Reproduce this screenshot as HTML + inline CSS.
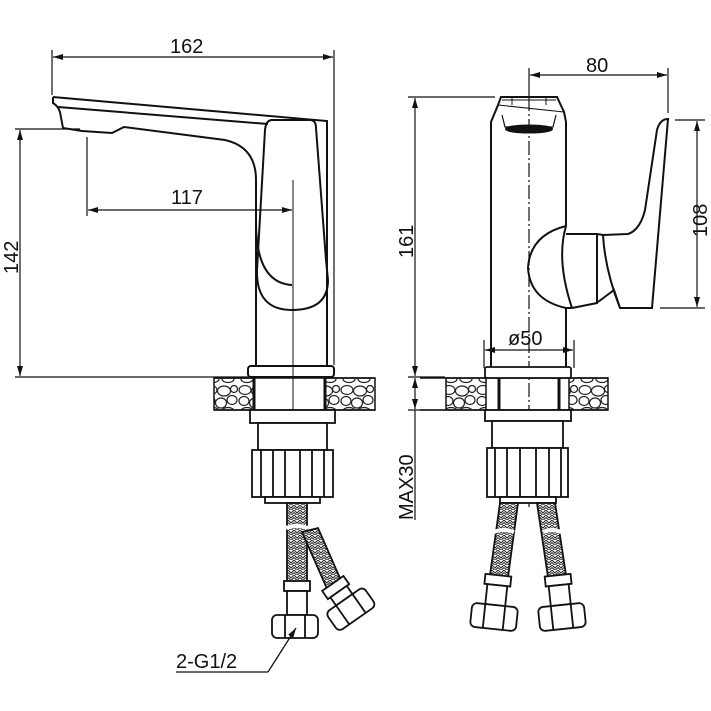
<!DOCTYPE html>
<html><head><meta charset="utf-8"><style>html,body{margin:0;padding:0;background:#fff}svg{display:block}</style></head><body>
<svg width="711" height="711" viewBox="0 0 711 711" xmlns="http://www.w3.org/2000/svg" font-family="Liberation Sans, sans-serif">
<defs>
<pattern id="braid" width="6" height="5" patternUnits="userSpaceOnUse">
<rect width="6" height="5" fill="#fff"/>
<path d="M0 0 L3 3 L6 0 M0 2.5 L3 5.5 L6 2.5" stroke="#222" stroke-width="1" fill="none"/>
</pattern>
<pattern id="stone" width="34" height="32" patternUnits="userSpaceOnUse">
<rect width="34" height="32" fill="#fff"/>
<g fill="none" stroke="#222" stroke-width="1.2">
<ellipse cx="7" cy="6" rx="6" ry="4.5"/><ellipse cx="20" cy="7" rx="6.5" ry="5"/><ellipse cx="30" cy="5" rx="3.5" ry="3.5"/>
<ellipse cx="6" cy="17" rx="5" ry="4.5"/><ellipse cx="17" cy="19" rx="5.5" ry="5"/><ellipse cx="28" cy="16" rx="5" ry="4.5"/>
<ellipse cx="9" cy="27" rx="6" ry="3.5"/><ellipse cx="24" cy="27" rx="6" ry="3.5"/>
</g>
</pattern>
<marker id="a" viewBox="0 0 10 6" refX="10" refY="3" markerWidth="10" markerHeight="6" orient="auto-start-reverse" markerUnits="userSpaceOnUse"><path d="M0 0 L10 3 L0 6 Z" fill="#111"/></marker>
</defs>
<g stroke="#111" fill="none" stroke-width="1.2">
<line x1="52" y1="50" x2="52" y2="95"/>
<line x1="334" y1="50" x2="334" y2="365"/>
<line x1="53" y1="57" x2="333" y2="57" marker-start="url(#a)" marker-end="url(#a)"/>
<line x1="15" y1="129" x2="80" y2="129"/>
<line x1="15" y1="377" x2="248" y2="377"/>
<line x1="20" y1="130" x2="20" y2="376" marker-start="url(#a)" marker-end="url(#a)"/>
<line x1="87" y1="137" x2="87" y2="216"/>
<line x1="88" y1="210" x2="292" y2="210" marker-start="url(#a)" marker-end="url(#a)"/>
<line x1="293" y1="180" x2="293" y2="525" stroke-width="1"/>
</g>
<g fill="#111" font-size="20">
<text x="170" y="53">162</text>
<text x="171" y="204">117</text>
<text transform="translate(18,274) rotate(-90)">142</text>
</g>
<g stroke="#111" fill="none" stroke-width="2">
<path d="M53 97 L53 103 Q58 106 60 112 L63 128 L82 131 L112 133 L124 127 L225 140 Q256 147 256 180 L256 365"/>
<path d="M53 97 L327 121 L327 365"/>
<path d="M58 107 L268 124"/>
<path d="M272 120 L310 120 Q316 120 316 128 L326 260 L328 280 Q328 310 292 310 Q256 310 257 270 L265 130 Q266 120 272 120 Z"/>
<path d="M256 222 Q256 283 292 285"/>
<rect x="248" y="366" width="86" height="11" rx="3"/>
</g>
<g stroke="#111" stroke-width="1.5">
<rect x="214" y="378" width="40" height="32" fill="url(#stone)"/>
<rect x="325" y="378" width="50" height="32" fill="url(#stone)"/>
<path d="M254 378 V410 M325 378 V410" stroke-width="3"/>
<line x1="214" y1="378" x2="375" y2="378"/>
<line x1="214" y1="410" x2="375" y2="410"/>
</g>
<g stroke="#111" fill="#fff" stroke-width="1.8">
<rect x="250" y="410" width="85" height="13"/>
<rect x="258" y="423" width="69" height="27"/>
<rect x="252" y="450" width="81" height="47"/>
<path d="M261 450 V497 M273 450 V497 M285 450 V497 M300 450 V497 M312 450 V497 M324 450 V497" fill="none"/>
<rect x="265" y="497" width="55" height="6"/>
<rect x="287" y="503" width="20" height="80" fill="url(#braid)"/>
<path d="M302 532 L318 528 L343 585 L328 591 Z" fill="url(#braid)"/>
<rect x="284" y="581" width="26" height="10"/>
<rect x="287" y="591" width="20" height="24"/>
<rect x="272" y="615" width="46" height="23" rx="5"/>
<path d="M285 615 V638 M305 615 V638" fill="none"/>
<g transform="translate(350,608) rotate(-35)">
<rect x="-13" y="-30" width="26" height="10"/>
<rect x="-10" y="-20" width="20" height="10"/>
<rect x="-23" y="-10" width="46" height="23" rx="5"/>
<path d="M-10 -10 V13 M10 -10 V13" fill="none"/>
</g>
</g>
<path d="M286 528 Q297 524 308 528" stroke="#fff" stroke-width="4" fill="none"/>
<g stroke="#111" fill="none" stroke-width="1.3">
<line x1="176" y1="672" x2="268" y2="672"/>
<line x1="268" y1="672" x2="296" y2="628" marker-end="url(#a)"/>
</g>
<text x="176" y="668" font-size="20" fill="#111">2-G1/2</text>

<g stroke="#111" fill="none" stroke-width="1.2">
<line x1="408" y1="97" x2="495" y2="97"/>
<line x1="408" y1="377" x2="445" y2="377"/>
<line x1="415" y1="98" x2="415" y2="376" marker-start="url(#a)" marker-end="url(#a)"/>
<line x1="408" y1="410" x2="445" y2="410"/>
<line x1="415" y1="378" x2="415" y2="409" marker-start="url(#a)" marker-end="url(#a)"/>
<line x1="415" y1="410" x2="415" y2="520"/>
<line x1="529" y1="68" x2="529" y2="96"/>
<line x1="668" y1="68" x2="668" y2="113"/>
<line x1="530" y1="75" x2="667" y2="75" marker-start="url(#a)" marker-end="url(#a)"/>
<line x1="675" y1="120" x2="705" y2="120"/>
<line x1="660" y1="308" x2="705" y2="308"/>
<line x1="697" y1="121" x2="697" y2="307" marker-start="url(#a)" marker-end="url(#a)"/>
<line x1="484" y1="340" x2="484" y2="368"/>
<line x1="574" y1="340" x2="574" y2="368"/>
<line x1="485" y1="350" x2="573" y2="350" marker-start="url(#a)" marker-end="url(#a)"/>
<line x1="529" y1="97" x2="529" y2="510" stroke-dasharray="14 3 2 3"/>
</g>
<g fill="#111" font-size="20">
<text x="586" y="72">80</text>
<text x="508" y="345">ø50</text>
<text transform="translate(413,258) rotate(-90)">161</text>
<text transform="translate(707,237) rotate(-90)">108</text>
<text transform="translate(413,520) rotate(-90)">MAX30</text>
</g>
<g stroke="#111" fill="none" stroke-width="2">
<path d="M491 368 V122 L498 105 L501 97 L557 97 L564 112 L566 122 V226"/>
<path d="M566 308 V368"/>
<path d="M498 105 L564 112" stroke-width="1"/>
<path d="M502 100 L556 100 M512 98 V105 M546 98 V105" stroke-width="1"/>
<path d="M502 115 L505 127 L553 127 L556 115" stroke-width="1.2"/>
<ellipse cx="529" cy="129" rx="23" ry="3.5" fill="#111"/>
<path d="M566 226 Q530 235 528 268 Q530 300 566 308"/>
<path d="M566 226 Q556 260 572 308 M571 234 L597 234 L597 303 L572 308 M566 234 L571 234 M566 308 L572 308"/>
<path d="M597 234 L603 235 L628 234 Q640 230 645 210 L657 130 Q660 119 668 119 L652 308 L620 308 L614 290 L598 302 M603 235 Q605 270 620 308"/>
</g>
<g stroke="#111" stroke-width="1.5">
<rect x="446" y="378" width="40" height="32" fill="url(#stone)"/>
<rect x="569" y="378" width="39" height="32" fill="url(#stone)"/>
<path d="M499 378 V410 M559 378 V410" stroke-width="3"/>
<line x1="420" y1="378" x2="608" y2="378"/>
<line x1="420" y1="410" x2="608" y2="410"/>
</g>
<g stroke="#111" fill="#fff" stroke-width="1.8">
<rect x="485" y="367" width="86" height="11" rx="2"/>
<rect x="485" y="410" width="86" height="11"/>
<rect x="492" y="421" width="71" height="27"/>
<rect x="487" y="448" width="81" height="49"/>
<path d="M495 448 V497 M507 448 V497 M520 448 V497 M536 448 V497 M549 448 V497 M561 448 V497" fill="none"/>
<rect x="500" y="497" width="56" height="6"/>
<path d="M500 503 L518 503 L508 577 L490 575 Z" fill="url(#braid)"/>
<path d="M537 503 L555 503 L566 575 L548 577 Z" fill="url(#braid)"/>
<g transform="translate(494,617) rotate(6)">
<rect x="-13" y="-42" width="26" height="10"/>
<rect x="-10" y="-32" width="20" height="20"/>
<rect x="-23" y="-12" width="46" height="24" rx="5"/>
<path d="M-10 -12 V12 M10 -12 V12" fill="none"/>
</g>
<g transform="translate(562,617) rotate(-6)">
<rect x="-13" y="-42" width="26" height="10"/>
<rect x="-10" y="-32" width="20" height="20"/>
<rect x="-23" y="-12" width="46" height="24" rx="5"/>
<path d="M-10 -12 V12 M10 -12 V12" fill="none"/>
</g>
</g>
<path d="M494 532 Q503 528 514 532 M543 532 Q552 528 561 532" stroke="#fff" stroke-width="4" fill="none"/>
</svg>
</body></html>
